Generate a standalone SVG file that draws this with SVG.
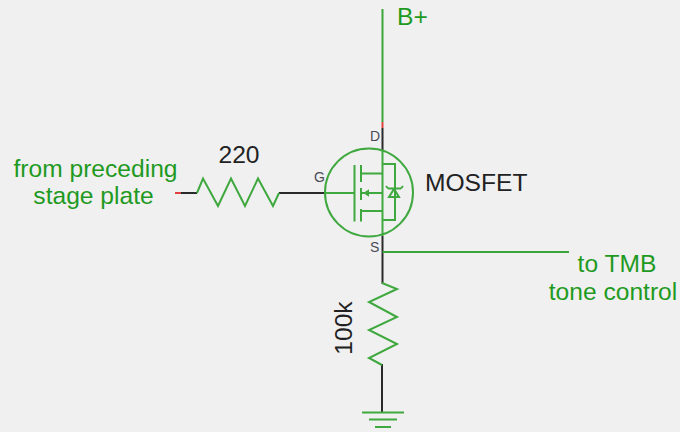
<svg xmlns="http://www.w3.org/2000/svg" width="680" height="432" viewBox="0 0 680 432">
<style>
text{font-family:"Liberation Sans",Arial,sans-serif}
.g{fill:#1f9a1f;font-size:24.600px}
.k{fill:#222;font-size:24.600px}
.l{fill:#4a4a55;font-size:14px}
.w{fill:none;stroke-width:2}
.gs{stroke:#3aa63a}
.ks{stroke:#2a2a2a}
.sym{fill:none;stroke:#3fa83f;stroke-width:2}
</style>
<rect width="680" height="432" fill="#f0f0f0"/>
<g id="connectors" class="w">
<path class="gs" d="M382.500 9V122"/>
<path d="M382.500 122V128" stroke="#e04040" stroke-width="2"/>
<path class="ks" d="M382.500 128V150"/>
<path class="ks" d="M382.500 236V284"/>
<path class="gs" d="M382.500 252H569"/>
<path d="M175 193H181" stroke="#e04040" stroke-width="2"/>
<path class="ks" d="M181 193H197"/>
<path class="ks" d="M279 193H325"/>
<path class="ks" d="M382 364V412"/>
</g>
<g id="r220">
<path class="sym" d="M197 193L203 178.500L218 206L231 178.500L245 206L258 178.500L273 206L279 193"/>
<text class="k" x="239" y="163" text-anchor="middle">220</text>
</g>
<g id="r100k">
<path class="sym" d="M382 283L397 289L369 302L397 317L369 330L397 344L369 358L382 365"/>
<text class="k" x="352" y="328" text-anchor="middle" transform="rotate(-90 352 328)">100k</text>
</g>
<g id="mosfet">
<circle class="sym" cx="369" cy="192.500" r="44"/>
<path class="sym" d="M325 193H354M354.500 165V221.500M361 165V182M361 188V200M361 209V221.500M361 173.500H382M361 193H382M361 211H382M382.500 150V236M382 164H395V220H382M388 188.500H401M389 197H399L394 189ZM365 193L368 191V195Z"/>
<path class="sym" d="M388 188.500L386 186M401 188.500L403 186"/>
<text class="k" x="425" y="191">MOSFET</text>
<text class="l" x="370" y="141">D</text>
<text class="l" x="314" y="182">G</text>
<text class="l" x="370" y="252">S</text>
</g>
<g id="ground">
<path class="sym" d="M362 412.500H404M369 419.500H397M375 427H391"/>
</g>
<g id="label-bplus"><text class="g" x="397" y="25">B+</text></g>
<g id="label-from">
<text class="g" x="95.500" y="177" text-anchor="middle">from preceding</text>
<text class="g" x="93.500" y="204" text-anchor="middle">stage plate</text>
</g>
<g id="label-to">
<text class="g" x="617" y="272" text-anchor="middle">to TMB</text>
<text class="g" x="613" y="300" text-anchor="middle">tone control</text>
</g>
</svg>
